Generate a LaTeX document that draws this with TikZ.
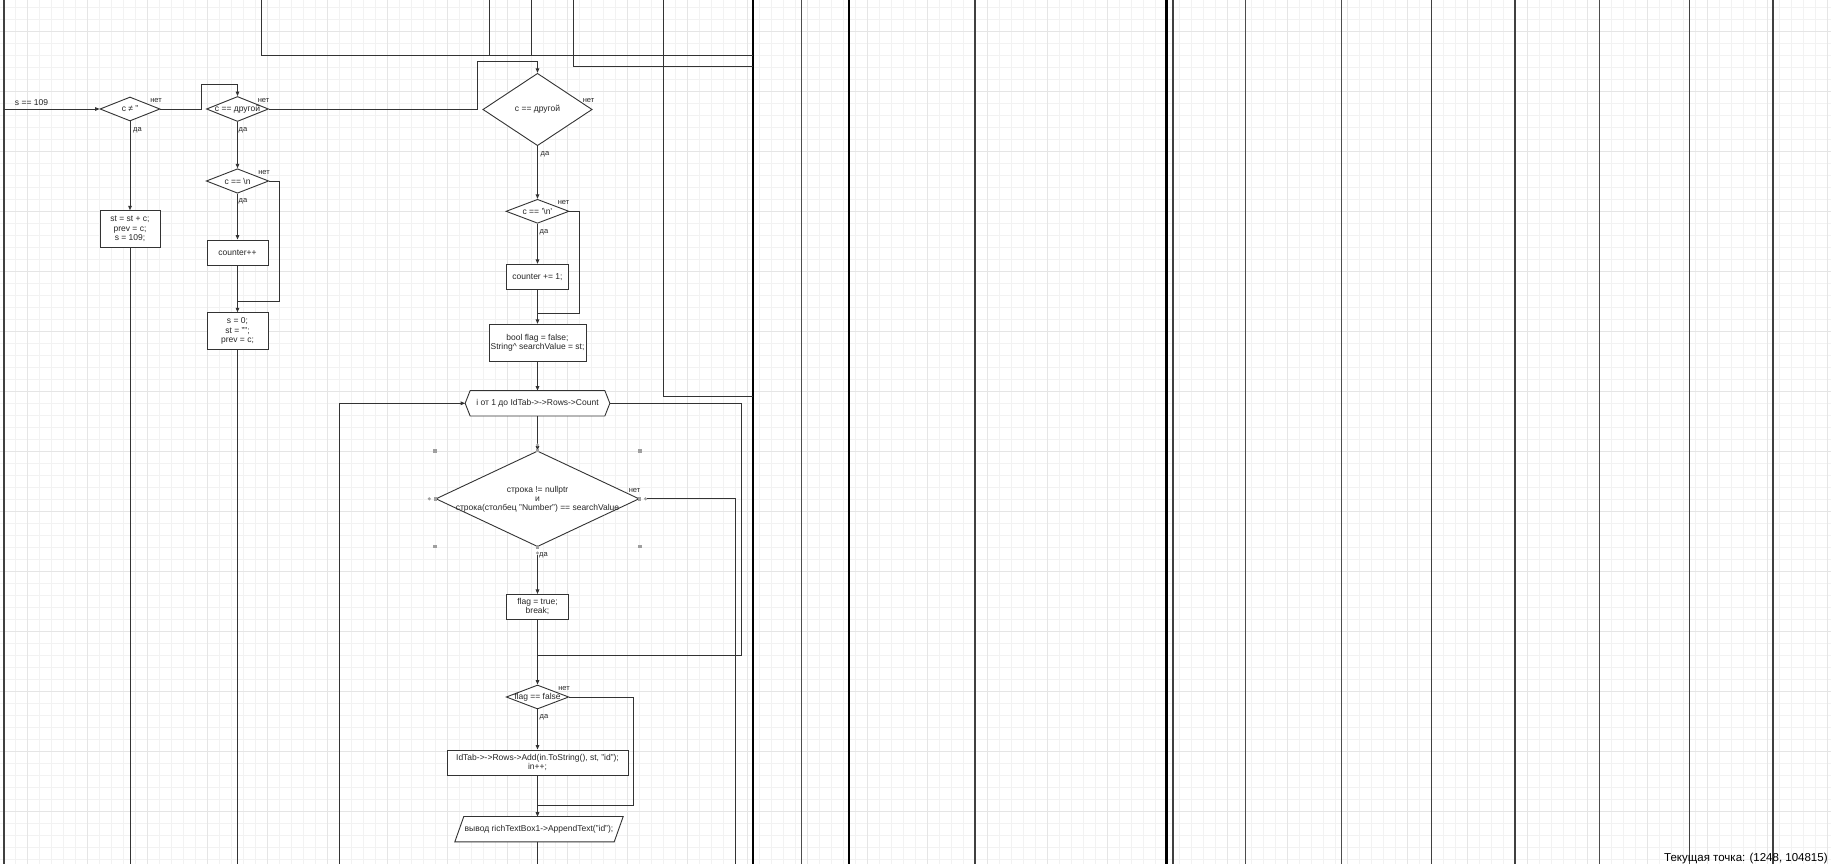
\documentclass[tikz,border=0pt]{standalone}
\usepackage{fontspec}
\setmainfont{Liberation Sans}
\usetikzlibrary{arrows.meta,shapes.geometric}

\begin{document}
\begin{tikzpicture}[x=1pt,y=-1pt,
  every node/.style={font=\fontsize{8.5}{9.5}\selectfont, text=black!85},
  flow/.style={draw=black!80, line width=0.9pt},
  arr/.style={flow, -{Triangle[length=4.5pt,width=3.6pt]}},
  dia/.style={draw=black!80, line width=0.9pt, diamond, inner sep=0pt, fill=white},
  box/.style={draw=black!80, line width=0.9pt, rectangle, inner sep=0pt, fill=white, align=center},
  lbl/.style={font=\fontsize{7.5}{8}\selectfont, inner sep=0pt},
  handle/.style={fill=gray!75, draw=none, inner sep=0pt, minimum size=3.4pt, rectangle},
  hdot/.style={fill=gray!75, draw=none, inner sep=0pt, minimum size=3.4pt, circle},
  lane/.style={draw=black!75, line width=1.1pt},
  lanebold/.style={draw=black, line width=2.4pt},
  lanethin/.style={draw=black!70, line width=0.9pt},
]
\useasboundingbox (0,0) rectangle (1831,864);
\fill[white] (0,0) rectangle (1831,864);

% background grid
\foreach \gx in {3.3,15.3,...,1831} \draw[gray!10, line width=0.7pt] (\gx,0) -- (\gx,864);
\foreach \gy in {7.7,19.7,...,864} \draw[gray!10, line width=0.7pt] (0,\gy) -- (1831,\gy);
\foreach \gx in {27.3,87.3,...,1831} \draw[gray!20, line width=0.9pt] (\gx,0) -- (\gx,864);
\foreach \gy in {31.7,91.7,...,864} \draw[gray!20, line width=0.9pt] (0,\gy) -- (1831,\gy);

% lanes
\draw[lane] (4,0) -- (4,864);
\draw[lanebold] (753,0) -- (753,864);
\draw[lanethin] (801.4,0) -- (801.4,864);
\draw[lanebold] (849,0) -- (849,864);
\draw[lane] (975,0) -- (975,864);
\draw[lanebold] (1166.6,0) -- (1166.6,864);
\draw[lane] (1173,0) -- (1173,864);
\draw[lanethin] (1245,0) -- (1245,864);
\draw[lanethin] (1341,0) -- (1341,864);
\draw[lane] (1431.5,0) -- (1431.5,864);
\draw[lane] (1515,0) -- (1515,864);
\draw[lanethin] (1599.5,0) -- (1599.5,864);
\draw[lane] (1689.7,0) -- (1689.7,864);
\draw[lane] (1773,0) -- (1773,864);

% connectors coming from above
\draw[flow] (261.8,0) -- (261.8,55) -- (753,55);
\draw[flow] (489.6,0) -- (489.6,55) -- (753,55);
\draw[flow] (531.7,0) -- (531.7,55) -- (753,55);
\draw[flow] (573.4,0) -- (573.4,66.7) -- (753,66.7);
\draw[flow] (663.3,0) -- (663.3,396.7) -- (753,396.7);

% ---------- column 1 ----------
\coordinate (in1) at (4,109);
\node[inner sep=0pt] (t109) at (31.5,102.5) {s == 109};
\node[dia, minimum width=60pt, minimum height=24pt, label={center:c ≠ "}] (d1) at (130,109) {};
\node[lbl] (d1n) at (156,100.5) {нет};
\node[lbl] (d1y) at (137.5,130.5) {да};
\node[box, minimum width=60pt, minimum height=36.6pt] (b1) at (130,229) {st = st + c;\\prev = c;\\s = 109;};
\coordinate (e1) at (130,864);
\draw[arr] (in1) -- (d1.west);
\draw[arr] (d1.south) -- (b1.north);
\draw[flow] (b1.south) -- (e1);

% ---------- column 2 ----------
\node[dia, minimum width=62pt, minimum height=25pt, label={center:c == другой}] (d2) at (237.5,109) {};
\node[lbl] (d2n) at (263.5,100.5) {нет};
\node[lbl] (d2y) at (243,130.5) {да};
\node[dia, minimum width=62.5pt, minimum height=24.5pt, label={center:c == \textbackslash n}] (d3) at (237.5,181) {};
\node[lbl] (d3n) at (264,172.5) {нет};
\node[lbl] (d3y) at (243,201.7) {да};
\node[box, minimum width=61pt, minimum height=25pt] (b2) at (237.5,252.5) {counter++};
\node[box, minimum width=61pt, minimum height=36.6pt] (b3) at (237.5,331) {s = 0;\\st = "";\\prev = c;};
\coordinate (j2) at (237.5,301);
\coordinate (e2) at (237.5,864);
\draw[arr] (d1.east) -- (201,109) -- (201,84.3) -- (237.5,84.3) -- (d2.north);
\draw[arr] (d2.south) -- (d3.north);
\draw[arr] (d3.south) -- (b2.north);
\draw[flow] (b2.south) -- (j2);
\draw[arr] (d3.east) -- (279.3,181) -- (279.3,301) -- (j2) -- (b3.north);
\draw[flow] (b3.south) -- (e2);

% ---------- column 3 ----------
\node[dia, minimum width=109.3pt, minimum height=72.4pt, label={center:c == другой}] (d4) at (537.5,109.5) {};
\node[lbl] (d4n) at (588.5,101) {нет};
\node[lbl] (d4y) at (545,154.5) {да};
\node[dia, minimum width=63pt, minimum height=24pt, label={center:c == '\textbackslash n'}] (d5) at (537.5,211.3) {};
\node[lbl] (d5n) at (563.5,202.7) {нет};
\node[lbl] (d5y) at (544,232.7) {да};
\node[box, minimum width=61.6pt, minimum height=25pt] (b4) at (537.5,276.8) {counter += 1;};
\node[box, minimum width=97pt, minimum height=37.4pt] (b5) at (537.5,343) {bool flag = false;\\String\textasciicircum{} searchValue = st;};
\coordinate (j5) at (537.5,313.3);

\draw[arr] (d2.east) -- (477.3,109) -- (477.3,61) -- (537.5,61) -- (d4.north);
\draw[arr] (d4.south) -- (d5.north);
\draw[arr] (d5.south) -- (b4.north);
\draw[flow] (b4.south) -- (j5);
\draw[arr] (d5.east) -- (579.3,211.3) -- (579.3,313.3) -- (j5) -- (b5.north);

% loop header
\node[minimum width=144.3pt, minimum height=25pt, inner sep=0pt] (hx) at (537.5,403.3) {};
\draw[flow, fill=white] (hx.west) -- ([xshift=5pt]hx.north west) -- ([xshift=-5pt]hx.north east)
  -- (hx.east) -- ([xshift=-5pt]hx.south east) -- ([xshift=5pt]hx.south west) -- cycle;
\node[inner sep=0pt] (hxt) at (hx.center) {i от 1 до IdTab->->Rows->Count};
\draw[arr] (b5.south) -- (hx.north);
\coordinate (lb) at (339.3,864);
\draw[arr] (lb) -- (339.3,403.3) -- (hx.west);

% search condition
\node[dia, minimum width=203.3pt, minimum height=95.7pt] (d6) at (537.5,498.8) {};
\node[align=center, font=\fontsize{8.5}{9}\selectfont] (d6t) at (537.5,499.3) {строка != nullptr\\и\\строка(столбец "Number") == searchValue};
\node[lbl] (d6n) at (634.5,490.7) {нет};
\node[lbl] (d6y) at (543.5,555.5) {да};
\draw[arr] (hx.south) -- (d6.north);

% selection handles of the condition
\foreach \hp in {(435,451),(640,451),(435,546.7),(640,546.7),(d6.north),(d6.south),(d6.east),(d6.west)}
  \node[handle] at \hp {};
\node[hdot] (h1) at (537.5,445) {};
\node[hdot] (h2) at (537.5,553) {};
\node[hdot] (h3) at (429.3,498.8) {};
\node[hdot] (h4) at (645.5,498.8) {};

\node[box, minimum width=62pt, minimum height=24.6pt] (b6) at (537.5,606.7) {flag = true;\\break;};
\draw[arr] (h2) -- (b6.north);
\draw[flow] (h4) -- (735.7,498.8) -- (735.7,864);

% flag check
\node[dia, minimum width=62.6pt, minimum height=24pt, label={center:flag == false}] (d7) at (537.5,697) {};
\node[lbl] (d7n) at (564,688.7) {нет};
\node[lbl] (d7y) at (544,717.7) {да};
\coordinate (j7) at (537.5,655);
\draw[flow] (hx.east) -- (741.7,403.3) -- (741.7,655) -- (j7);
\draw[arr] (b6.south) -- (d7.north);

\node[box, minimum width=181pt, minimum height=25pt] (b7) at (537.5,762.5) {IdTab->->Rows->Add(in.ToString(), st, "id");\\in++;};
\coordinate (j8) at (537.5,805);
\draw[arr] (d7.south) -- (b7.north);

% output
\node[minimum width=159pt, minimum height=25pt, inner sep=0pt] (out) at (539,829.2) {};
\draw[flow, fill=white] ([xshift=-4.5pt]out.south west) -- ([xshift=4.5pt]out.north west)
  -- ([xshift=4.5pt]out.north east) -- ([xshift=-4.5pt]out.south east) -- cycle;
\node[inner sep=0pt] (outt) at (out.center) {вывод richTextBox1->AppendText("id");};
\draw[flow] (b7.south) -- (j8);
\draw[arr] (d7.east) -- (633.3,697) -- (633.3,805) -- (j8) -- (537.5,816.7);
\coordinate (e3) at (537.5,864);
\draw[flow] (537.5,841.7) -- (e3);

% status line
\node[anchor=base west, inner sep=0pt, font=\fontsize{11.5}{12}\selectfont, text=black] (status) at (1664,861) {Текущая точка: (1248, 104815)};
\end{tikzpicture}
\end{document}
